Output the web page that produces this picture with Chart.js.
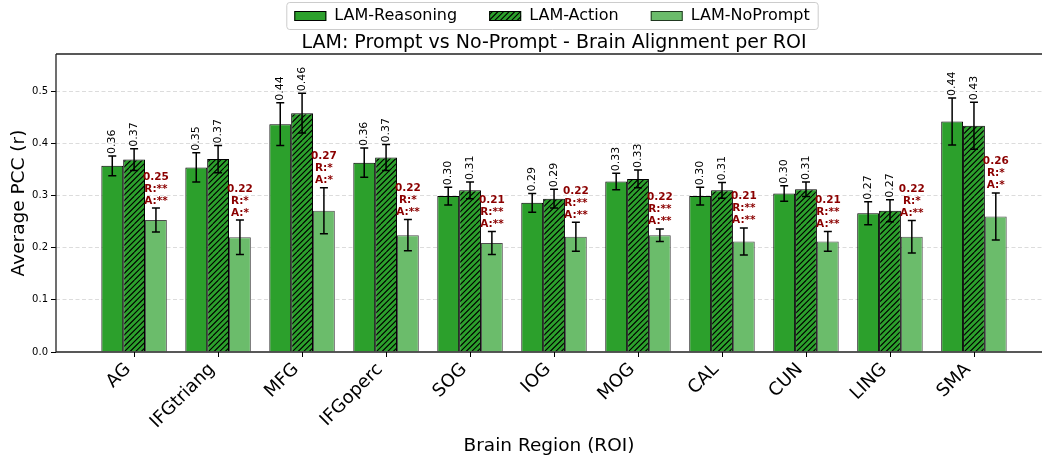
<!DOCTYPE html>
<html>
<head>
<meta charset="utf-8">
<script src="https://cdn.jsdelivr.net/npm/chart.js@4.4.1/dist/chart.umd.min.js"></script>
<style>html,body{margin:0;padding:0;background:#fff}</style>
</head>
<body>
<canvas id="c" width="1042" height="461"></canvas>
<script>
// data
const categories = ['AG', 'IFGtriang', 'MFG', 'IFGoperc', 'SOG', 'IOG', 'MOG', 'CAL', 'CUN', 'LING', 'SMA'];
const reasoning    = [0.357, 0.354, 0.437, 0.363, 0.299, 0.286, 0.327, 0.299, 0.304, 0.266, 0.442];
const reasoningErr = [0.019, 0.028, 0.041, 0.028, 0.017, 0.018, 0.016, 0.017, 0.015, 0.022, 0.045];
const action       = [0.369, 0.370, 0.458, 0.373, 0.310, 0.294, 0.332, 0.310, 0.312, 0.271, 0.434];
const actionErr    = [0.021, 0.026, 0.038, 0.025, 0.016, 0.018, 0.017, 0.015, 0.014, 0.021, 0.045];
const noPrompt     = [0.253, 0.220, 0.271, 0.224, 0.209, 0.221, 0.224, 0.212, 0.212, 0.221, 0.260];
const noPromptErr  = [0.023, 0.033, 0.044, 0.030, 0.022, 0.028, 0.012, 0.026, 0.019, 0.031, 0.045];
const sigR = ['**', '*', '*', '*', '**', '**', '**', '**', '**', '*', '*'];
const sigA = ['**', '*', '*', '**', '**', '**', '**', '**', '**', '**', '*'];
const yTicks = [0.0, 0.1, 0.2, 0.3, 0.4, 0.5];

const GREEN = '#2ca02c';
const FONT = "'DejaVu Sans', sans-serif";

function makeHatch() {
    const size = 28, step = 5.6;
    const c = document.createElement('canvas');
    c.width = size; c.height = size;
    const g = c.getContext('2d');
    g.fillStyle = GREEN;
    g.fillRect(0, 0, size, size);
    g.strokeStyle = '#000';
    g.lineWidth = 1.1;
    g.beginPath();
    for (let k = -size; k <= 2 * size; k += step) {
        g.moveTo(k, size);
        g.lineTo(k + size, 0);
    }
    g.stroke();
    return g.createPattern(c, 'repeat');
}

const ctx = document.getElementById('c').getContext('2d');
const hatch = makeHatch();

const toPoints = arr => arr.map((v, i) => ({ x: i, y: v }));

const decor = {
    id: 'decor',
    afterDatasetsDraw(chart) {
        const { ctx, scales: { y } } = chart;
        chart.data.datasets.forEach((ds, di) => {
            const meta = chart.getDatasetMeta(di);
            meta.data.forEach((bar, i) => {
                const v = ds.data[i].y, e = ds.err[i];
                const yt = y.getPixelForValue(v + e), yb = y.getPixelForValue(v - e);
                ctx.save();
                // error bar
                ctx.strokeStyle = '#000';
                ctx.lineWidth = 1.5;
                ctx.beginPath();
                ctx.moveTo(bar.x, yt); ctx.lineTo(bar.x, yb);
                ctx.moveTo(bar.x - 4, yt); ctx.lineTo(bar.x + 4, yt);
                ctx.moveTo(bar.x - 4, yb); ctx.lineTo(bar.x + 4, yb);
                ctx.stroke();
                if (di < 2) {
                    ctx.translate(bar.x, yt - 2);
                    ctx.rotate(-Math.PI / 2);
                    ctx.fillStyle = '#000';
                    ctx.font = '11px ' + FONT;
                    ctx.textAlign = 'left';
                    ctx.textBaseline = 'middle';
                    ctx.fillText(v.toFixed(2), 0, 0);
                } else {
                    ctx.fillStyle = '#8b0000';
                    ctx.font = 'bold 10.5px ' + FONT;
                    ctx.textAlign = 'center';
                    ctx.textBaseline = 'bottom';
                    const lines = [v.toFixed(2), 'R:' + sigR[i], 'A:' + sigA[i]];
                    lines.forEach((t, k) => {
                        ctx.fillText(t, bar.x, yt - 2 - (2 - k) * 12);
                    });
                }
                ctx.restore();
            });
        });
    },
    afterDraw(chart) {
        const { ctx, chartArea: a, scales: { x } } = chart;
        ctx.save();
        // spines
        ctx.strokeStyle = '#222';
        ctx.lineWidth = 1.3;
        ctx.beginPath();
        ctx.moveTo(a.left, a.top); ctx.lineTo(a.right, a.top);
        ctx.moveTo(a.left, a.top); ctx.lineTo(a.left, a.bottom);
        ctx.moveTo(a.left, a.bottom); ctx.lineTo(a.right, a.bottom);
        ctx.stroke();
        // x tick marks
        ctx.strokeStyle = '#000';
        ctx.lineWidth = 1;
        ctx.beginPath();
        x.ticks.forEach((t, i) => {
            const px = Math.round(x.getPixelForTick(i)) + 0.5;
            ctx.moveTo(px, a.bottom);
            ctx.lineTo(px, a.bottom + 5);
        });
        ctx.stroke();

        // title
        ctx.fillStyle = '#000';
        ctx.font = '19px ' + FONT;
        ctx.textAlign = 'center';
        ctx.textBaseline = 'middle';
        ctx.fillText('LAM: Prompt vs No-Prompt - Brain Alignment per ROI', 554, 43);

        // legend
        ctx.font = '16px ' + FONT;
        const sw = 32, sh = 10, gapText = 8, gapItem = 32;
        const items = chart.data.datasets.map(d => ({ label: d.label, fill: d.backgroundColor, edge: d.borderColor }));
        let total = 0;
        items.forEach((it, k) => {
            it.w = ctx.measureText(it.label).width;
            total += sw + gapText + it.w + (k < items.length - 1 ? gapItem : 0);
        });
        const cx = 552, cy = 16;
        let lx = cx - total / 2;
        const bx = lx - 8, bw = total + 16;
        ctx.fillStyle = 'rgba(255,255,255,0.8)';
        ctx.strokeStyle = '#cccccc';
        ctx.lineWidth = 1;
        ctx.beginPath();
        ctx.roundRect(bx + 0.5, 2.5, bw, 27, 3);
        ctx.fill();
        ctx.stroke();
        items.forEach(it => {
            ctx.fillStyle = it.fill;
            ctx.fillRect(lx, cy - sh / 2, sw, sh);
            ctx.strokeStyle = it.edge;
            ctx.strokeRect(lx + 0.5, cy - sh / 2 + 0.5, sw - 1, sh - 1);
            ctx.fillStyle = '#000';
            ctx.textAlign = 'left';
            ctx.fillText(it.label, lx + sw + gapText, cy);
            lx += sw + gapText + it.w + gapItem;
        });
        ctx.restore();
    }
};

new Chart(ctx, {
    type: 'bar',
    data: {
        datasets: [
            { label: 'LAM-Reasoning', data: toPoints(reasoning), err: reasoningErr,
              backgroundColor: GREEN, borderColor: '#000', borderWidth: 1 },
            { label: 'LAM-Action', data: toPoints(action), err: actionErr,
              backgroundColor: hatch, borderColor: '#000', borderWidth: 1 },
            { label: 'LAM-NoPrompt', data: toPoints(noPrompt), err: noPromptErr,
              backgroundColor: '#6bbc6b', borderColor: 'rgba(0,0,0,0.7)', borderWidth: 1 }
        ]
    },
    options: {
        responsive: false,
        animation: false,
        layout: { padding: { top: 54, left: 0, right: 0, bottom: 0 } },
        datasets: { bar: { categoryPercentage: 0.78, barPercentage: 1.0 } },
        plugins: { legend: { display: false }, title: { display: false }, tooltip: { enabled: false } },
        scales: {
            x: {
                type: 'linear',
                min: -0.93,
                max: 10.81,
                offset: false,
                afterBuildTicks: s => { s.ticks = categories.map((c, i) => ({ value: i })); },
                ticks: {
                    autoSkip: false, maxRotation: 45, minRotation: 45,
                    callback: v => categories[v],
                    font: { family: FONT, size: 18 }, color: '#000', padding: 7, labelOffset: -6
                },
                grid: { offset: false, drawOnChartArea: false, drawTicks: false, tickLength: 5 },
                border: { display: false },
                title: { display: true, text: 'Brain Region (ROI)', color: '#000',
                         font: { family: FONT, size: 18.5 }, padding: { top: 0, bottom: 4 } },
                afterFit: s => { s.height = 109; s.paddingLeft = 0; s.paddingRight = 0; }
            },
            y: {
                min: 0,
                max: 0.5715,
                afterBuildTicks: s => { s.ticks = yTicks.map(v => ({ value: v })); },
                ticks: { callback: v => v.toFixed(1), font: { family: FONT, size: 10 }, color: '#000', padding: 3 },
                grid: {
                    color: c => (c.tick && c.tick.value === 0) ? 'rgba(0,0,0,0)' : '#dcdcdc',
                    tickColor: '#000', tickLength: 5, tickBorderDash: [], lineWidth: 1
                },
                border: { display: false, dash: [4, 2.5] },
                title: { display: true, text: 'Average PCC (r)', color: '#000',
                         font: { family: FONT, size: 18.5 }, padding: { top: 8, bottom: 0 } },
                afterFit: s => { s.width = 56; }
            }
        }
    },
    plugins: [decor]
});
</script>
</body>
</html>
